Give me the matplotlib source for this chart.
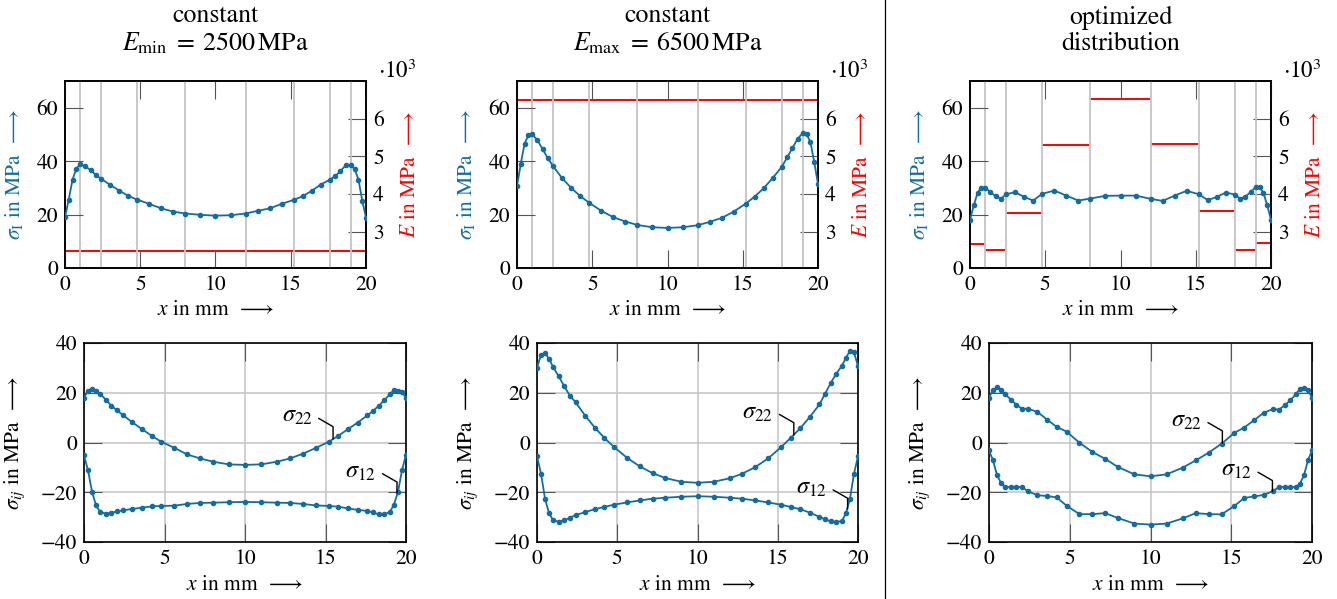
import matplotlib
matplotlib.use("Agg")
import matplotlib.pyplot as plt
from matplotlib.lines import Line2D

plt.rcParams["font.family"] = ["STIXGeneral", "DejaVu Sans"]
plt.rcParams["mathtext.fontset"] = "stix"
plt.rcParams["font.size"] = 15.5

# --------------------------
# data
# --------------------------
x_nodes = [0, 0.25, 0.5, 0.75, 1.0, 1.35, 1.7, 2.05, 2.4, 3.0, 3.6, 4.2, 4.8,
           5.6, 6.4, 7.2, 8.0, 9.0, 10.0, 11.0, 12.0, 12.8, 13.6, 14.4, 15.2,
           15.8, 16.4, 17.0, 17.6, 17.95, 18.3, 18.65, 19.0, 19.25, 19.5, 19.75, 20.0]

# principal stress sigma_I (MPa)
sI_min = [19.1, 25.6, 33.1, 37.1, 38.9, 38.1, 36.6, 34.8, 33.4, 31.1, 29.0, 27.0, 25.6,
          24.0, 22.3, 21.1, 20.4, 19.9, 19.6, 19.75, 20.4, 21.4, 22.3, 24.0, 25.5,
          26.9, 28.9, 31.25, 33.1, 34.4, 36.25, 38.4, 38.6, 36.9, 33.1, 25.25, 18.9]
sI_max = [30.6, 39.0, 46.5, 49.6, 50.1, 47.9, 44.5, 41.1, 38.1, 33.6, 30.0, 26.9, 24.4,
          21.4, 19.0, 17.4, 16.1, 15.25, 15.0, 15.25, 16.0, 17.25, 18.75, 21.1, 24.1,
          26.75, 29.9, 33.75, 37.9, 41.4, 44.9, 48.4, 50.6, 50.1, 47.1, 39.6, 31.5]
sI_opt = [18.1, 23.4, 28.1, 30.1, 30.1, 28.4, 26.9, 25.9, 27.6, 28.4, 26.6, 25.25, 27.75,
          29.0, 27.1, 25.25, 26.0, 27.0, 27.1, 27.1, 25.9, 25.1, 27.1, 28.9, 27.6,
          25.4, 26.6, 28.25, 27.5, 25.9, 26.75, 28.4, 30.4, 30.25, 28.1, 23.4, 18.1]

# stress components sigma_22 / sigma_12 (MPa)
s22_min = [18.0, 20.9, 21.6, 20.6, 19.6, 17.2, 14.8, 12.9, 11.1, 8.1, 5.4, 2.7, 0.3,
           -2.1, -4.8, -6.4, -7.7, -8.8, -9.0, -8.8, -7.7, -6.4, -4.5, -2.2, 0.3,
           2.7, 5.4, 8.0, 10.9, 12.7, 14.7, 17.0, 19.4, 21.1, 20.7, 20.3, 17.9]
s12_min = [-5.2, -11.2, -19.9, -25.3, -27.9, -28.6, -28.3, -27.7, -27.3, -26.7, -26.2, -25.7, -25.5,
           -25.4, -24.7, -24.3, -24.2, -24.0, -23.9, -24.0, -24.2, -24.3, -24.7, -25.3, -25.5,
           -25.8, -26.5, -27.1, -27.5, -28.1, -28.9, -28.9, -27.9, -25.0, -19.9, -11.2, -4.9]
s22_max = [30.1, 35.2, 36.0, 33.6, 30.4, 26.6, 22.6, 18.8, 16.2, 10.8, 6.0, 1.8, -1.8,
           -6.1, -9.6, -12.3, -14.3, -15.8, -16.2, -15.8, -14.4, -12.5, -9.9, -6.4, -1.9,
           1.8, 5.7, 10.3, 15.3, 19.6, 23.9, 27.7, 30.9, 34.0, 36.9, 36.2, 30.7]
s12_max = [-5.6, -12.5, -22.6, -28.4, -31.3, -31.8, -31.3, -30.2, -29.2, -28.0, -26.8, -25.9, -25.0,
           -24.1, -23.3, -22.6, -22.2, -21.8, -21.6, -21.8, -22.2, -22.6, -23.3, -24.1, -25.0,
           -25.9, -26.8, -28.2, -29.9, -30.9, -31.7, -31.9, -31.6, -28.4, -22.6, -12.5, -5.6]
s22_opt = [18.0, 21.2, 22.2, 21.2, 19.5, 17.2, 15.2, 13.5, 13.6, 12.3, 9.2, 6.2, 4.4,
           -0.1, -3.8, -6.6, -9.9, -12.8, -13.6, -12.8, -10.1, -7.2, -4.1, -0.5, 3.9,
           6.0, 8.9, 11.9, 13.5, 13.2, 14.9, 16.9, 19.4, 21.6, 22.0, 21.0, 18.0]
s12_opt = [-3.2, -7.2, -13.2, -16.3, -17.9, -17.9, -17.8, -17.9, -19.6, -21.2, -21.5, -22.1, -25.4,
           -28.8, -28.8, -28.4, -30.4, -32.6, -33.0, -32.6, -30.5, -28.4, -28.8, -28.9, -25.5,
           -22.3, -21.7, -21.1, -19.5, -17.9, -17.8, -17.9, -17.9, -16.6, -13.2, -7.2, -3.2]

# Young's modulus per segment (10^3 MPa)
seg_edges = [0, 1, 2.4, 4.8, 8, 12, 15.2, 17.6, 19, 20]
E_min = [2.5] * 9
E_max = [6.5] * 9
E_opt = [2.68, 2.52, 3.51, 5.30, 6.51, 5.33, 3.55, 2.52, 2.71]

titles = ["constant\n$E_{\\mathrm{min}}\\;=\\;2500\\,\\mathrm{MPa}$",
          "constant\n$E_{\\mathrm{max}}\\;=\\;6500\\,\\mathrm{MPa}$",
          "optimized\ndistribution"]

# pin annotations: (x, y) on curve
pin22 = [(15.47, 1.4), (16.0, 3.0), (14.45, -0.3)]
pin12 = [(19.44, -20.3), (19.35, -26.8), (17.55, -19.7)]

BLUE = "#136da0"
RED = "#ff0000"
GRID = "#c4c4c4"
TICK = "#555555"

fig = plt.figure(figsize=(13.37, 5.99), dpi=100)
W, H = 1337.0, 599.0


def pos(x0, x1, y0, y1):
    return [x0 / W, 1 - y1 / H, (x1 - x0) / W, (y1 - y0) / H]


top_pos = [pos(65, 366, 81, 268), pos(517, 818, 81, 268), pos(970, 1271, 81, 268)]
bot_pos = [pos(84, 406, 343, 542), pos(537, 858, 343, 542), pos(989, 1312, 343, 542)]

sI_all = [sI_min, sI_max, sI_opt]
E_all = [E_min, E_max, E_opt]
s22_all = [s22_min, s22_max, s22_opt]
s12_all = [s12_min, s12_max, s12_opt]

arrow = r"$\;\;\longrightarrow$"

for i in range(3):
    # ---------- top: sigma_I and E ----------
    ax = fig.add_axes(top_pos[i])
    ax2 = ax.twinx()
    ax.set_zorder(ax2.get_zorder() + 1)
    ax.patch.set_visible(False)

    for xb in seg_edges[1:-1]:
        ax.axvline(xb, color=GRID, lw=1.3, zorder=0)
    ax2.hlines(E_all[i], seg_edges[:-1], seg_edges[1:], color=RED, lw=1.4)
    ax.plot(x_nodes, sI_all[i], "-o", color=BLUE, lw=1.3, ms=3.0, zorder=3)

    ax.set_xlim(0, 20)
    ax.set_ylim(0, 70)
    ax2.set_ylim(2.04, 7.0)
    ax.set_xticks([0, 5, 10, 15, 20])
    ax.set_yticks([0, 20, 40, 60])
    ax2.set_yticks([3, 4, 5, 6])
    ax.tick_params(direction="in", length=13, width=0.8, color=TICK, pad=5,
                   top=True, right=False)
    ax2.tick_params(direction="in", length=13, width=0.8, color=TICK, pad=5)
    for a in (ax, ax2):
        for s in a.spines.values():
            s.set_linewidth(1.2)
            s.set_color("black")

    ax.text(-0.168, 0.5, r"$\sigma_{\mathrm{I}}$ in MPa" + arrow, transform=ax.transAxes,
            rotation=90, ha="center", va="center", color=BLUE)
    ax.text(1.145, 0.5, r"$E$ in MPa" + arrow, transform=ax.transAxes,
            rotation=90, ha="center", va="center", color=RED)
    ax.text(1.103, 1.05, r"$\cdot10^{3}$", transform=ax.transAxes,
            ha="center", va="center", fontsize=16.5)
    ax.text(0.5, -0.225, r"$x$ in mm" + arrow, transform=ax.transAxes,
            ha="center", va="center")
    ax.set_title(titles[i], pad=22, linespacing=1.15)

    # ---------- bottom: sigma_22, sigma_12 ----------
    bx = fig.add_axes(bot_pos[i])
    bx.plot(x_nodes, s22_all[i], "-o", color=BLUE, lw=1.3, ms=3.0, zorder=3)
    bx.plot(x_nodes, s12_all[i], "-o", color=BLUE, lw=1.3, ms=3.0, zorder=3)
    bx.set_xlim(0, 20)
    bx.set_ylim(-40, 40)
    bx.set_xticks([0, 5, 10, 15, 20])
    bx.set_yticks([-40, -20, 0, 20, 40])
    bx.grid(True, color=GRID, lw=1.1)
    bx.set_axisbelow(True)
    bx.tick_params(direction="in", length=13, width=0.8, color=TICK, pad=5,
                   top=True, right=True)
    for s in bx.spines.values():
        s.set_linewidth(1.2)
        s.set_color("black")
    bx.text(-0.215, 0.5, r"$\sigma_{ij}$ in MPa" + arrow, transform=bx.transAxes,
            rotation=90, ha="center", va="center")
    bx.text(0.5, -0.216, r"$x$ in mm" + arrow, transform=bx.transAxes,
            ha="center", va="center")

    for lab, p, off in [(r"$\sigma_{22}$", pin22[i], (-15, 16)),
                        (r"$\sigma_{12}$", pin12[i], (-15, 15))]:
        bx.annotate(lab, xy=p, xytext=off, textcoords="offset points",
                    ha="right", va="center", zorder=5, fontsize=17.5,
                    arrowprops=dict(arrowstyle="-", color="black", lw=1.0,
                                    shrinkA=3, shrinkB=0, relpos=(1.0, 0.6),
                                    connectionstyle="angle,angleA=-30,angleB=90,rad=0"))

# separator between constant and optimized columns
fig.add_artist(Line2D([885 / W, 885 / W], [0, 1], color="black", lw=0.9))

fig.savefig("out.png", dpi=100)
